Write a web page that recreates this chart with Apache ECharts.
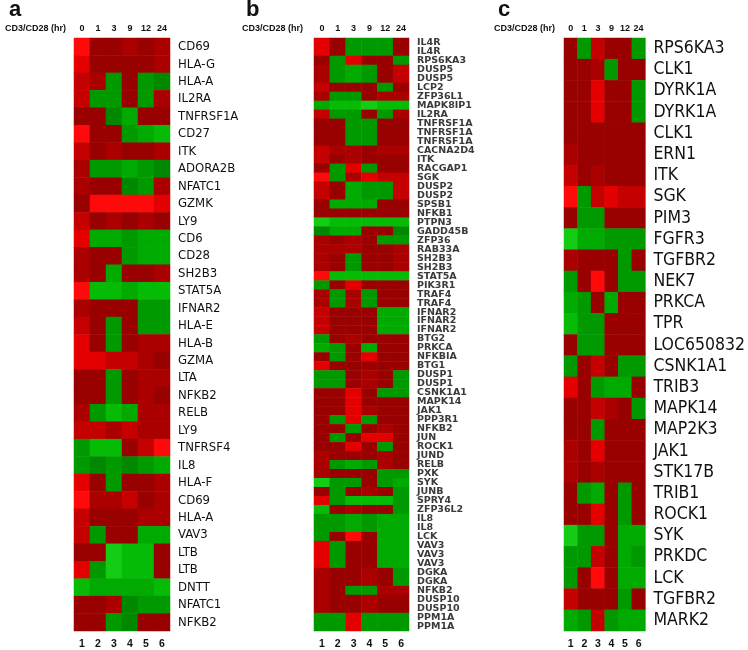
<!DOCTYPE html>
<html><head><meta charset="utf-8">
<script src="https://cdn.jsdelivr.net/npm/echarts@6/dist/echarts.min.js"></script>
<style>html,body{margin:0;padding:0;background:#fff}#c{width:748px;height:650px}</style>
</head><body><div id="c"></div>
<script>
// Column labels
var timeLabels = ["0","1","3","9","12","24"];
var sampleLabels = ["1","2","3","4","5","6"];
// Expression levels: positive = red (1 dark .. 5 bright), negative = green (-1 dark .. -5 bright)
var genesA = ["CD69","HLA-G","HLA-A","IL2RA","TNFRSF1A","CD27","ITK","ADORA2B","NFATC1","GZMK","LY9","CD6","CD28","SH2B3","STAT5A","IFNAR2","HLA-E","HLA-B","GZMA","LTA","NFKB2","RELB","LY9","TNFRSF4","IL8","HLA-F","CD69","HLA-A","VAV3","LTB","LTB","DNTT","NFATC1","NFKB2"];
var valuesA = [
[5,1,1,2,1,2],[4,1,1,1,1,2],[3,2,-2,1,-2,-1],[3,-2,-2,1,-2,2],[1,1,-1,-3,1,1],[5,1,1,-2,-3,-4],
[3,1,2,1,1,2],[2,-2,-2,-3,-2,-1],[2,1,1,-1,-2,2],[1,5,5,5,5,4],[3,1,2,1,2,1],[4,-3,-3,-2,-3,-3],
[2,1,1,-2,-3,-3],[2,1,-3,1,1,2],[5,-4,-4,-3,-4,-4],[2,1,1,1,-2,-2],[3,1,-2,1,-2,-2],[4,1,-2,1,2,2],
[4,4,3,3,2,1],[1,1,-2,1,2,2],[1,1,-2,1,2,1],[2,-2,-4,-3,2,2],[3,3,2,3,2,2],[-2,-4,-4,1,3,5],
[-2,-1,-2,-1,-2,-3],[4,1,-2,1,1,2],[5,2,2,3,1,2],[3,1,1,1,2,2],[3,-2,1,1,-3,-3],[1,1,-5,-4,-4,1],
[4,-2,-5,-4,-4,1],[-4,-3,-3,-3,-3,-4],[1,1,2,-1,-2,-2],[1,1,-2,-1,1,1]];
var genesB = ["IL4R","IL4R","RPS6KA3","DUSP5","DUSP5","LCP2","ZFP36L1","MAPK8IP1","IL2RA","TNFRSF1A","TNFRSF1A","TNFRSF1A","CACNA2D4","ITK","RACGAP1","SGK","DUSP2","DUSP2","SPSB1","NFKB1","PTPN3","GADD45B","ZFP36","RAB33A","SH2B3","SH2B3","STAT5A","PIK3R1","TRAF4","TRAF4","IFNAR2","IFNAR2","IFNAR2","BTG2","PRKCA","NFKBIA","BTG1","DUSP1","DUSP1","CSNK1A1","MAPK14","JAK1","PPP3R1","NFKB2","JUN","ROCK1","JUND","RELB","PXK","SYK","JUNB","SPRY4","ZFP36L2","IL8","IL8","LCK","VAV3","VAV3","VAV3","DGKA","DGKA","NFKB2","DUSP10","DUSP10","PPM1A","PPM1A"];
var valuesB = [
[4,1,-2,-2,-2,1],[4,1,-2,-2,-2,1],[1,-2,4,1,1,-2],[2,-2,-3,-2,1,3],[2,-2,-3,-2,1,3],[3,1,1,1,-2,1],
[2,-2,-2,1,2,2],[-3,-4,-4,-5,-4,-4],[3,-2,-2,1,-2,2],[1,1,-2,-2,1,1],[1,1,-2,-2,1,1],[1,1,-2,-2,1,1],
[3,2,2,1,2,2],[3,1,2,1,1,1],[1,-2,4,-2,1,1],[5,-2,2,4,3,3],[3,1,-3,-2,-2,3],[3,1,-3,-2,-2,3],
[1,-3,-3,-3,1,1],[1,1,1,1,1,1],[-5,-4,-4,-4,-4,-4],[-1,-3,-3,1,1,-1],[2,1,2,1,-2,-2],[2,2,2,1,1,2],
[2,1,-2,1,1,2],[2,1,-2,1,1,2],[5,-4,-4,-4,-4,-4],[-2,1,4,1,1,1],[2,-2,2,-2,1,1],[2,-2,2,-2,1,1],
[3,1,1,1,-3,-3],[3,1,1,1,-3,-3],[3,1,1,1,-3,-3],[-2,1,2,1,1,1],[-3,-2,1,-3,1,1],[1,-2,1,4,1,1],
[4,1,1,1,1,1],[-2,-2,1,2,1,-2],[-2,-2,1,2,1,-2],[1,1,4,1,-2,-2],[1,1,4,1,1,1],[1,1,4,2,1,1],
[1,-2,4,-2,1,1],[1,1,-2,1,2,1],[1,-2,1,4,4,1],[1,1,4,1,-2,1],[2,1,1,1,2,1],[2,-2,-3,-2,2,1],
[2,1,1,1,-2,-2],[-5,-2,-2,1,-2,-3],[1,-2,1,2,1,-2],[4,-2,-4,-4,-4,-2],[-4,1,2,1,1,-2],[-2,-2,-3,-2,-3,-3],
[-2,-2,-3,-2,-3,-3],[-2,1,5,1,-3,-3],[4,-2,1,1,-3,-3],[4,-2,1,1,-3,-3],[4,-2,1,1,-3,-3],[2,1,1,2,1,-2],
[2,1,1,2,1,-2],[2,1,-2,-2,2,2],[2,1,1,2,1,1],[2,1,1,2,1,1],[-2,-2,4,-2,-2,-2],[-2,-2,4,-2,-2,-2]];
var genesC = ["RPS6KA3","CLK1","DYRK1A","DYRK1A","CLK1","ERN1","ITK","SGK","PIM3","FGFR3","TGFBR2","NEK7","PRKCA","TPR","LOC650832","CSNK1A1","TRIB3","MAPK14","MAP2K3","JAK1","STK17B","TRIB1","ROCK1","SYK","PRKDC","LCK","TGFBR2","MARK2"];
var valuesC = [
[1,-2,3,1,1,-2],[1,1,2,-2,1,1],[1,1,4,1,1,-2],[1,1,4,1,1,-2],[1,1,1,1,1,1],[2,1,1,1,1,1],
[3,1,2,1,1,1],[5,-2,3,4,3,3],[1,-2,-2,1,1,1],[-5,-3,-3,-2,-2,-2],[2,1,1,1,-2,1],[-2,1,5,1,-2,-2],
[-3,-2,1,-3,1,1],[-4,-2,-2,1,1,1],[1,-2,-2,1,1,1],[-2,1,3,1,-2,-2],[4,1,-2,-3,-3,1],[1,1,3,2,1,-2],
[1,1,-2,1,1,1],[2,1,4,1,1,1],[2,1,2,1,1,1],[1,-2,-3,1,-2,1],[1,1,4,1,-2,1],[-5,-2,-2,1,-3,-3],
[-2,-2,3,1,-3,-2],[-2,1,5,1,-3,-3],[3,1,1,1,-2,1],[-3,-2,3,-2,-3,-3]];

function toCells(vals){var out=[];vals.forEach(function(r,i){r.forEach(function(v,j){out.push([j,i,v]);});});return out;}

var condensed = '"DejaVu Sans Condensed","DejaVu Sans",sans-serif';
var panels = [
 {genes:genesA, vals:valuesA, left:74, width:96, font:{fontFamily:condensed,fontSize:13,color:'#111'}},
 {genes:genesB, vals:valuesB, left:314, width:95, font:{fontFamily:'"DejaVu Sans",sans-serif',fontSize:9.5,fontWeight:'bold',color:'#3a3a3a'}},
 {genes:genesC, vals:valuesC, left:564, width:98, font:{fontFamily:condensed,fontSize:17.5,color:'#111'}}
];
var titleX = [4, 241, 493];
var grids=[],xAxes=[],yAxes=[],series=[],titles=[];
var hdrFont = {fontFamily:'"Liberation Sans",Arial,sans-serif',fontSize:9,fontWeight:'bold',color:'#111'};
panels.forEach(function(p,k){
  grids.push({left:p.left,width:p.width,top:38,height:594});
  xAxes.push({type:'category',gridIndex:k,position:'bottom',data:sampleLabels,
    axisLine:{show:false},axisTick:{show:false},splitLine:{show:false},
    axisLabel:{margin:8,interval:0,fontSize:10.5,fontFamily:hdrFont.fontFamily,fontWeight:'bold',color:'#111'}});
  xAxes.push({type:'category',gridIndex:k,position:'top',data:timeLabels,
    axisLine:{show:false},axisTick:{show:false},splitLine:{show:false},
    axisLabel:Object.assign({margin:5,interval:0,hideOverlap:false},hdrFont)});
  yAxes.push({type:'category',gridIndex:k,position:'right',inverse:true,data:p.genes,
    axisLine:{show:false},axisTick:{show:false},splitLine:{show:false},
    axisLabel:Object.assign({margin:8,interval:0},p.font)});
  series.push({type:'heatmap',xAxisIndex:2*k,yAxisIndex:k,data:toCells(p.vals),
    itemStyle:{borderWidth:0},emphasis:{disabled:true},progressive:0});
  titles.push({text:['a','b','c'][k],left:titleX[k],top:-6,
    textStyle:{fontFamily:'"Liberation Sans",Arial,sans-serif',fontSize:22,fontWeight:'bold',color:'#111'}});
  titles.push({text:'CD3/CD28 (hr)',left:titleX[k]+1,top:24,padding:0,textStyle:hdrFont});
});

var chart = echarts.init(document.getElementById('c'),null,{renderer:'canvas'});
chart.setOption({
  animation:false,
  backgroundColor:'#fff',
  title:titles,
  grid:grids, xAxis:xAxes, yAxis:yAxes,
  visualMap:{type:'piecewise',show:false,dimension:2,seriesIndex:[0,1,2],
    pieces:[
      {value:1,color:'#990000'},{value:2,color:'#ab0000'},{value:3,color:'#c40000'},{value:4,color:'#e40000'},{value:5,color:'#ff0a0a'},
      {value:-1,color:'#008800'},{value:-2,color:'#009a00'},{value:-3,color:'#00aa00'},{value:-4,color:'#05bb05'},{value:-5,color:'#14cc14'}
    ]},
  series:series
});
</script></body></html>
